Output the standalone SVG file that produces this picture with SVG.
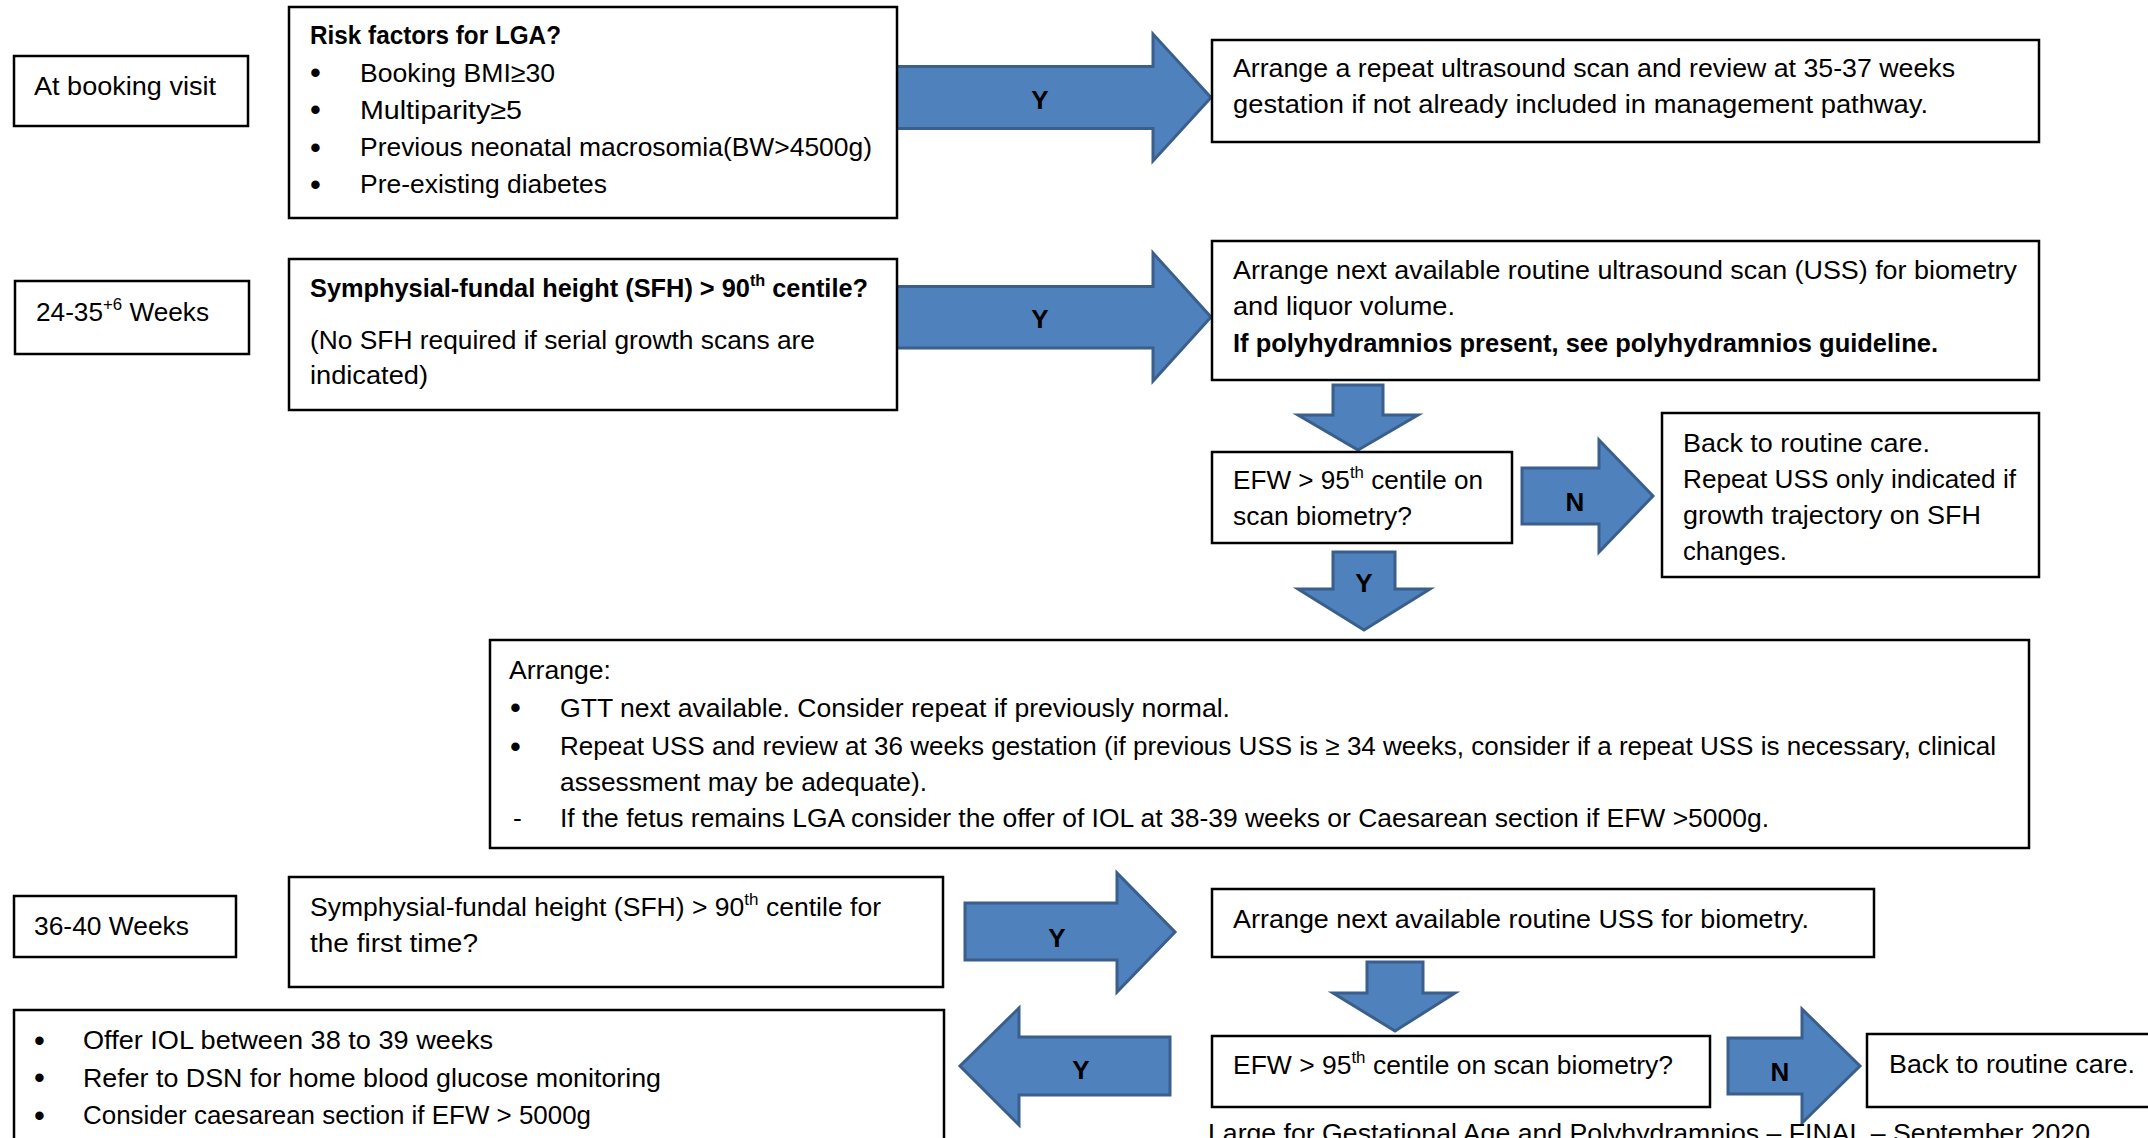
<svg xmlns="http://www.w3.org/2000/svg" width="2148" height="1138" viewBox="0 0 2148 1138">
<style>
.box{fill:#fff;stroke:#000;stroke-width:2.5}
.arr{fill:#4F81BD;stroke:#3A5F8C;stroke-width:3;stroke-linejoin:miter}
.t{font-family:"Liberation Sans",Arial,sans-serif;font-size:26.5px;fill:#000}
.b{font-weight:bold}
.bul{font-family:"Liberation Sans",Arial,sans-serif;font-size:31px;fill:#000}
.lbl{font-family:"Liberation Sans",Arial,sans-serif;font-size:26px;font-weight:bold;fill:#000;text-anchor:middle}
.sup{font-size:17px}
</style>
<rect width="2148" height="1138" fill="#fff"/>

<g id="connectors">
  <path class="arr" d="M896,66.5 H1153 V34 L1211,97.5 L1153,161 V128.5 H896 Z"/>
  <text class="lbl" x="1040" y="109">Y</text>
  <path class="arr" d="M896,286.5 H1153 V253 L1211,317 L1153,381 V348 H896 Z"/>
  <text class="lbl" x="1040" y="328">Y</text>
  <path class="arr" d="M1333,385 H1383 V415 H1418 L1358,450 L1298,415 H1333 Z"/>
  <path class="arr" d="M1522,468 H1599 V440 L1653,496 L1599,552 V524 H1522 Z"/>
  <text class="lbl" x="1575" y="511">N</text>
  <path class="arr" d="M1333,552 H1395 V589 H1430 L1364,630 L1298,589 H1333 Z"/>
  <text class="lbl" x="1364" y="592">Y</text>
  <path class="arr" d="M965,903 H1117 V873 L1175,932 L1117,992 V960 H965 Z"/>
  <text class="lbl" x="1057" y="947">Y</text>
  <path class="arr" d="M1367,962 H1423 V993 H1455 L1395,1031 L1333,993 H1367 Z"/>
  <path class="arr" d="M1170,1037 H1019 V1008 L960,1066 L1019,1125 V1095 H1170 Z"/>
  <text class="lbl" x="1081" y="1079">Y</text>
  <path class="arr" d="M1728,1038 H1802 V1009 L1860,1066 L1802,1123 V1094 H1728 Z"/>
  <text class="lbl" x="1780" y="1081">N</text>
</g>

<g id="booking">
  <rect class="box" x="14" y="56" width="234" height="70"/>
  <text class="t" x="34" y="95" textLength="182" lengthAdjust="spacingAndGlyphs">At booking visit</text>
</g>

<g id="risk">
  <rect class="box" x="289" y="7" width="608" height="211"/>
  <text class="t b" x="310" y="44" textLength="251" lengthAdjust="spacingAndGlyphs">Risk factors for LGA?</text>
  <text class="bul" x="310" y="83">•</text>
  <text class="t" x="360" y="81.5" textLength="195" lengthAdjust="spacingAndGlyphs">Booking BMI≥30</text>
  <text class="bul" x="310" y="120">•</text>
  <text class="t" x="360" y="118.5" textLength="162" lengthAdjust="spacingAndGlyphs">Multiparity≥5</text>
  <text class="bul" x="310" y="157.5">•</text>
  <text class="t" x="360" y="156" textLength="512" lengthAdjust="spacingAndGlyphs">Previous neonatal macrosomia(BW&gt;4500g)</text>
  <text class="bul" x="310" y="194.5">•</text>
  <text class="t" x="360" y="193" textLength="247" lengthAdjust="spacingAndGlyphs">Pre-existing diabetes</text>
</g>

<g id="repeat-scan">
  <rect class="box" x="1212" y="40" width="827" height="102"/>
  <text class="t" x="1233" y="77" textLength="722" lengthAdjust="spacingAndGlyphs">Arrange a repeat ultrasound scan and review at 35-37 weeks</text>
  <text class="t" x="1233" y="113" textLength="695" lengthAdjust="spacingAndGlyphs">gestation if not already included in management pathway.</text>
</g>

<g id="weeks-24-35">
  <rect class="box" x="15" y="281" width="234" height="73"/>
  <text class="t" x="36" y="320.5" textLength="173" lengthAdjust="spacingAndGlyphs">24-35<tspan class="sup" dy="-11">+6</tspan><tspan dy="11"> Weeks</tspan></text>
</g>

<g id="sfh">
  <rect class="box" x="289" y="259" width="608" height="151"/>
  <text class="t b" x="310" y="296.5" textLength="558" lengthAdjust="spacingAndGlyphs">Symphysial-fundal height (SFH) &gt; 90<tspan class="sup" dy="-11">th</tspan><tspan dy="11"> centile?</tspan></text>
  <text class="t" x="310" y="349" textLength="505" lengthAdjust="spacingAndGlyphs">(No SFH required if serial growth scans are</text>
  <text class="t" x="310" y="384" textLength="118" lengthAdjust="spacingAndGlyphs">indicated)</text>
</g>

<g id="routine-uss">
  <rect class="box" x="1212" y="241" width="827" height="139"/>
  <text class="t" x="1233" y="279" textLength="784" lengthAdjust="spacingAndGlyphs">Arrange next available routine ultrasound scan (USS) for biometry</text>
  <text class="t" x="1233" y="315" textLength="222" lengthAdjust="spacingAndGlyphs">and liquor volume.</text>
  <text class="t b" x="1233" y="351.5" textLength="705" lengthAdjust="spacingAndGlyphs">If polyhydramnios present, see polyhydramnios guideline.</text>
</g>

<g id="efw1">
  <rect class="box" x="1212" y="452" width="300" height="91"/>
  <text class="t" x="1233" y="489" textLength="250" lengthAdjust="spacingAndGlyphs">EFW &gt; 95<tspan class="sup" dy="-11">th</tspan><tspan dy="11"> centile on</tspan></text>
  <text class="t" x="1233" y="525" textLength="179" lengthAdjust="spacingAndGlyphs">scan biometry?</text>
</g>

<g id="back1">
  <rect class="box" x="1662" y="413" width="377" height="164"/>
  <text class="t" x="1683" y="451.5" textLength="247" lengthAdjust="spacingAndGlyphs">Back to routine care.</text>
  <text class="t" x="1683" y="487.5" textLength="333" lengthAdjust="spacingAndGlyphs">Repeat USS only indicated if</text>
  <text class="t" x="1683" y="523.5" textLength="298" lengthAdjust="spacingAndGlyphs">growth trajectory on SFH</text>
  <text class="t" x="1683" y="559.5" textLength="104" lengthAdjust="spacingAndGlyphs">changes.</text>
</g>

<g id="arrange">
  <rect class="box" x="490" y="640" width="1539" height="208"/>
  <text class="t" x="509" y="679" textLength="102" lengthAdjust="spacingAndGlyphs">Arrange:</text>
  <text class="bul" x="510" y="718">•</text>
  <text class="t" x="560" y="716.5" textLength="670" lengthAdjust="spacingAndGlyphs">GTT next available. Consider repeat if previously normal.</text>
  <text class="bul" x="510" y="756.5">•</text>
  <text class="t" x="560" y="755" textLength="1436" lengthAdjust="spacingAndGlyphs">Repeat USS and review at 36 weeks gestation (if previous USS is ≥ 34 weeks, consider if a repeat USS is necessary, clinical</text>
  <text class="t" x="560" y="790.5" textLength="367" lengthAdjust="spacingAndGlyphs">assessment may be adequate).</text>
  <text class="t" x="513" y="826.5">-</text>
  <text class="t" x="560" y="826.5" textLength="1209" lengthAdjust="spacingAndGlyphs">If the fetus remains LGA consider the offer of IOL at 38-39 weeks or Caesarean section if EFW &gt;5000g.</text>
</g>

<g id="weeks-36-40">
  <rect class="box" x="14" y="896" width="222" height="61"/>
  <text class="t" x="34" y="935" textLength="155" lengthAdjust="spacingAndGlyphs">36-40 Weeks</text>
</g>

<g id="sfh2">
  <rect class="box" x="289" y="877" width="654" height="110"/>
  <text class="t" x="310" y="916" textLength="571" lengthAdjust="spacingAndGlyphs">Symphysial-fundal height (SFH) &gt; 90<tspan class="sup" dy="-11">th</tspan><tspan dy="11"> centile for</tspan></text>
  <text class="t" x="310" y="951.5" textLength="168" lengthAdjust="spacingAndGlyphs">the first time?</text>
</g>

<g id="routine-uss2">
  <rect class="box" x="1212" y="889" width="662" height="68"/>
  <text class="t" x="1233" y="928" textLength="576" lengthAdjust="spacingAndGlyphs">Arrange next available routine USS for biometry.</text>
</g>

<g id="efw2">
  <rect class="box" x="1212" y="1036" width="498" height="71"/>
  <text class="t" x="1233" y="1074" textLength="440" lengthAdjust="spacingAndGlyphs">EFW &gt; 95<tspan class="sup" dy="-11">th</tspan><tspan dy="11"> centile on scan biometry?</tspan></text>
</g>

<g id="back2">
  <rect class="box" x="1867" y="1034" width="283" height="73"/>
  <text class="t" x="1889" y="1073" textLength="246" lengthAdjust="spacingAndGlyphs">Back to routine care.</text>
</g>

<g id="iol">
  <rect class="box" x="14" y="1010" width="930" height="140"/>
  <text class="bul" x="34" y="1050.5">•</text>
  <text class="t" x="83" y="1049" textLength="410" lengthAdjust="spacingAndGlyphs">Offer  IOL between 38 to 39 weeks</text>
  <text class="bul" x="34" y="1088">•</text>
  <text class="t" x="83" y="1086.5" textLength="578" lengthAdjust="spacingAndGlyphs">Refer to DSN for home blood glucose monitoring</text>
  <text class="bul" x="34" y="1125.5">•</text>
  <text class="t" x="83" y="1124" textLength="508" lengthAdjust="spacingAndGlyphs">Consider caesarean section if EFW &gt; 5000g</text>
</g>

<text class="t" x="1208" y="1142" textLength="882" lengthAdjust="spacingAndGlyphs">Large for Gestational Age and Polyhydramnios – FINAL – September 2020</text>
</svg>
